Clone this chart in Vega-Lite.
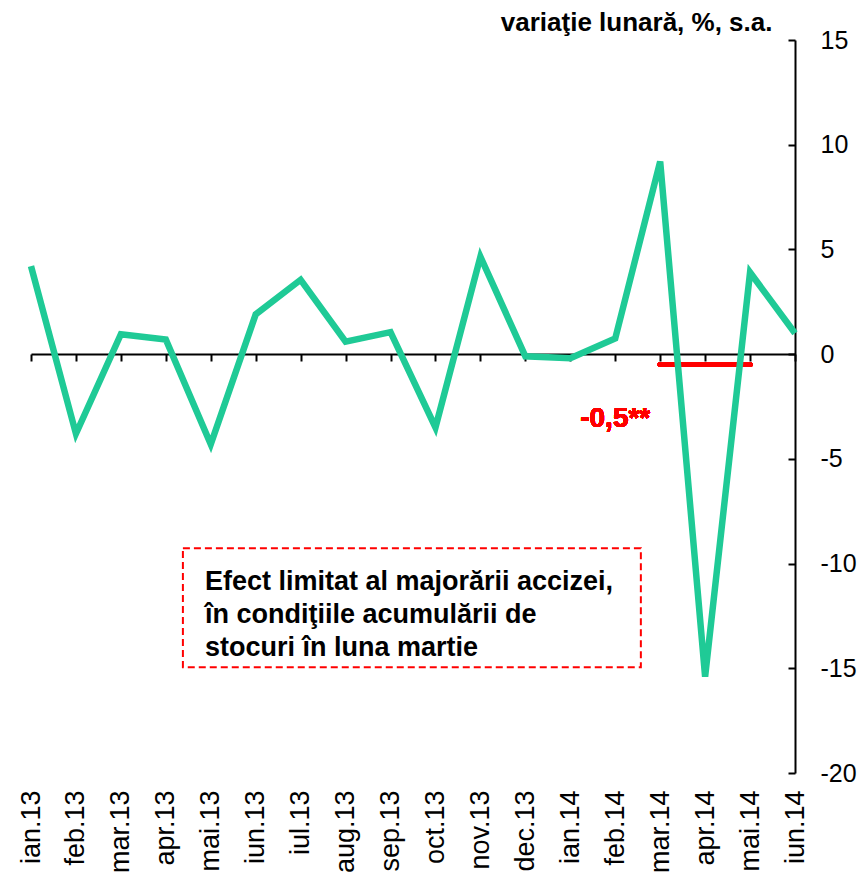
{
  "$schema": "https://vega.github.io/schema/vega-lite/v6.json",
  "width": 764,
  "height": 733,
  "autosize": {"type": "none"},
  "padding": {"left": 31, "top": 40, "right": 70, "bottom": 111},
  "background": "white",
  "config": {
    "view": {"stroke": null},
    "font": "Liberation Sans",
    "axis": {"labelFont": "Liberation Sans", "titleFont": "Liberation Sans", "labelColor": "black", "titleColor": "black", "grid": false}
  },
  "layer": [
    {
      "data": {"values": [{}]},
      "layer": [
        {
          "mark": {"type": "rect", "fill": null, "stroke": "#ff0000", "strokeWidth": 2, "strokeDash": [7, 4]},
          "encoding": {
            "x": {"datum": 3.38, "type": "quantitative", "scale": {"domain": [0, 17], "nice": false, "zero": false}, "axis": null},
            "x2": {"datum": 13.57},
            "y": {"datum": -9.27, "type": "quantitative"},
            "y2": {"datum": -14.95}
          }
        },
        {
          "mark": {
            "type": "text",
            "text": ["Efect limitat al majorării accizei,", "în condiţiile acumulării de", "stocuri în  luna martie"],
            "align": "left",
            "baseline": "middle",
            "fontSize": 27,
            "fontWeight": "bold",
            "lineHeight": 33,
            "color": "black"
          },
          "encoding": {
            "x": {"datum": 3.87, "type": "quantitative"},
            "y": {"datum": -10.9, "type": "quantitative"}
          }
        }
      ]
    },
    {
      "data": {
        "values": [
          {"month": "ian.13", "value": 4.2},
          {"month": "feb.13", "value": -3.8},
          {"month": "mar.13", "value": 0.95},
          {"month": "apr.13", "value": 0.7},
          {"month": "mai.13", "value": -4.3},
          {"month": "iun.13", "value": 1.9},
          {"month": "iul.13", "value": 3.55},
          {"month": "aug.13", "value": 0.6},
          {"month": "sep.13", "value": 1.05},
          {"month": "oct.13", "value": -3.5},
          {"month": "nov.13", "value": 4.65},
          {"month": "dec.13", "value": -0.1},
          {"month": "ian.14", "value": -0.2},
          {"month": "feb.14", "value": 0.75},
          {"month": "mar.14", "value": 9.2},
          {"month": "apr.14", "value": -15.4},
          {"month": "mai.14", "value": 3.9},
          {"month": "iun.14", "value": 1.0}
        ]
      },
      "layer": [
        {
          "mark": {"type": "rule", "color": "#ff0000", "strokeWidth": 5, "strokeCap": "round"},
          "encoding": {
            "x": {"datum": "mar.14", "type": "ordinal"},
            "x2": {"datum": "mai.14"},
            "y": {"datum": -0.5, "type": "quantitative"}
          }
        },
        {
          "mark": {"type": "line", "color": "#1fca96", "strokeWidth": 6.5},
          "encoding": {
            "x": {
              "field": "month",
              "type": "ordinal",
              "sort": null,
              "scale": {
                "type": "point",
                "padding": 0,
                "domain": ["ian.13", "feb.13", "mar.13", "apr.13", "mai.13", "iun.13", "iul.13", "aug.13", "sep.13", "oct.13", "nov.13", "dec.13", "ian.14", "feb.14", "mar.14", "apr.14", "mai.14", "iun.14"]
              },
              "axis": {
                "orient": "bottom",
                "offset": -419,
                "title": null,
                "domainColor": "black",
                "domainWidth": 2,
                "tickColor": "black",
                "tickWidth": 2,
                "tickSize": 7,
                "labelAngle": -90,
                "labelFontSize": 27,
                "labelPadding": 429
              }
            },
            "y": {
              "field": "value",
              "type": "quantitative",
              "scale": {"domain": [-20, 15], "nice": false, "zero": false},
              "axis": {
                "orient": "right",
                "title": "variaţie lunară, %, s.a.",
                "titleAngle": 0,
                "titleAlign": "right",
                "titleBaseline": "alphabetic",
                "titleX": -23,
                "titleY": -10,
                "titleFontSize": 26,
                "titleFontWeight": "bold",
                "values": [-20, -15, -10, -5, 0, 5, 10, 15],
                "labelExpr": "replace(datum.label, '\u2212', '-')",
                "domainColor": "black",
                "domainWidth": 2,
                "tickColor": "black",
                "tickWidth": 2,
                "tickSize": -7,
                "labelFontSize": 25,
                "labelPadding": 32
              }
            }
          }
        },
        {
          "mark": {"type": "text", "text": "-0,5**", "color": "#ff0000", "fontWeight": "bold", "fontSize": 28, "align": "center", "baseline": "middle"},
          "encoding": {
            "x": {"datum": "feb.14", "type": "ordinal"},
            "y": {"datum": -3.1, "type": "quantitative"}
          }
        }
      ]
    }
  ],
  "resolve": {"scale": {"x": "independent"}, "axis": {"x": "independent"}}
}
